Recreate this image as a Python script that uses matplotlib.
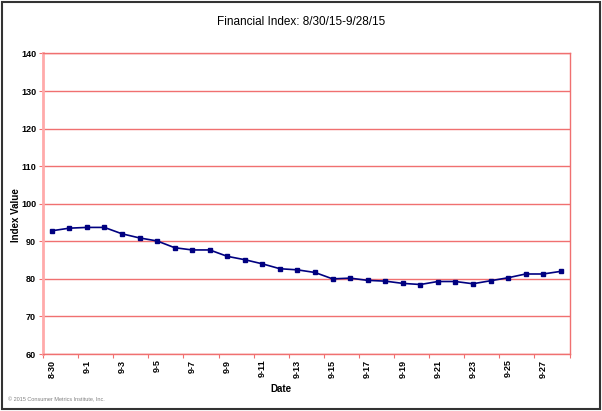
import matplotlib
matplotlib.use("Agg")
import matplotlib.pyplot as plt
from matplotlib.patches import Rectangle

# daily values 8/30/15 .. 9/28/15
dates = ["8-30", "8-31"] + [f"9-{d}" for d in range(1, 29)]
values = [92.8, 93.5, 93.7, 93.7, 92.0, 90.9, 90.1, 88.3, 87.7, 87.7,
          86.0, 85.1, 84.0, 82.7, 82.4, 81.7, 80.0, 80.2, 79.6, 79.4,
          78.8, 78.5, 79.3, 79.3, 78.7, 79.5, 80.3, 81.3, 81.3, 82.0]
y_ticks = [60, 70, 80, 90, 100, 110, 120, 130, 140]

plt.rcParams['font.family'] = ['Liberation Sans', 'DejaVu Sans']

W, H = 602, 411
fig = plt.figure(figsize=(W / 100, H / 100), dpi=100)
ax = fig.add_axes([43 / W, (H - 354) / H, (569.5 - 43) / W, (354 - 53.5) / H])

grid_col = '#f07070'
xs = list(range(len(values)))
ax.plot(xs, values, color='#000080', linewidth=1.2, marker='s',
        markersize=3.2, zorder=3)

ax.set_xlim(-0.5, len(values) - 0.5)
ax.set_ylim(60, 140)
ax.set_yticks(y_ticks)
ax.set_yticklabels([str(v) for v in y_ticks], fontsize=6.5, fontweight='bold')
ax.yaxis.grid(True, color=grid_col, linewidth=1.0)
ax.set_axisbelow(True)

# category axis: tick marks at boundaries, labels at every other category
ax.set_xticks([i - 0.5 for i in range(0, len(values) + 1, 2)])
ax.set_xticklabels([])
ax.set_xticks(xs[::2], minor=True)
ax.set_xticklabels(dates[::2], minor=True, rotation=90, fontsize=6.5,
                   fontweight='bold')
ax.tick_params(axis='x', which='minor', length=0, pad=4)
ax.tick_params(axis='x', which='major', length=3, color=grid_col, direction='out')
ax.tick_params(axis='y', length=3, color=grid_col, direction='out', pad=2)

for side in ['left', 'right', 'top', 'bottom']:
    ax.spines[side].set_color(grid_col)
    ax.spines[side].set_linewidth(1.0)
ax.spines['left'].set_color('#ffaaaa')
ax.spines['left'].set_linewidth(2.0)

fig.text(0.5, 1 - 22 / H, "Financial Index: 8/30/15-9/28/15",
         ha='center', va='center', fontsize=8.5)
fig.text(16 / W, 1 - 215 / H, "Index Value", rotation=90, ha='center',
         va='center', fontsize=7, fontweight='bold')
fig.text(281 / W, 1 - 389 / H, "Date", ha='center', va='center',
         fontsize=7, fontweight='bold')
fig.text(8 / W, 1 - 400 / H, "\u00a9 2015 Consumer Metrics Institute, Inc.",
         ha='left', va='center', fontsize=4, color='#808080')

fig.patches.append(Rectangle((1.5 / W, 2.5 / H), (W - 4) / W, (H - 5) / H,
                             transform=fig.transFigure, fill=False,
                             edgecolor='#333333', linewidth=1.5))

fig.savefig("out.png", dpi=100)
